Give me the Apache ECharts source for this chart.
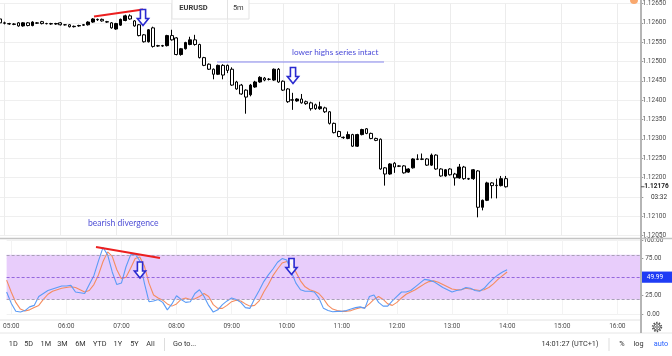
<!DOCTYPE html>
<html><head><meta charset="utf-8">
<script src="https://cdn.jsdelivr.net/npm/echarts@6/dist/echarts.min.js"></script>
<style>html,body{margin:0;padding:0;background:#fff}#c{width:672px;height:356px}</style>
</head><body><div id="c"></div>
<script>
function pad(n){return (n<10?'0':'')+n;}
// 5-minute categories 04:55 .. 16:25
const times=[]; for(let m=295;m<=985;m+=5) times.push(pad(Math.floor(m/60))+':'+pad(m%60));

// EURUSD 5m candles from 04:55 to 14:00
const open=[1.12610,1.12600,1.12598,1.12597,1.12600,1.12592,1.12600,1.12593,1.12600,1.12603,1.12598,1.12598,1.12597,1.12600,1.12595,1.12595,1.12590,1.12592,1.12594,1.12595,
1.12602,1.12609,1.12609,1.12603,1.12600,1.12584,1.12594,1.12606,1.12618,1.12605,1.12595,1.12569,1.12551,1.12587,1.12541,1.12540,1.12541,1.12567,1.12561,1.12518,
1.12533,1.12544,1.12556,1.12544,1.12510,1.12493,1.12480,1.12467,1.12490,1.12490,1.12480,1.12447,1.12439,1.12426,1.12414,1.12434,1.12447,1.12457,1.12454,1.12452,
1.12480,1.12449,1.12429,1.12401,1.12398,1.12403,1.12396,1.12393,1.12388,1.12378,1.12380,1.12370,1.12340,1.12319,1.12304,1.12301,1.12311,1.12281,1.12311,1.12326,
1.12314,1.12301,1.12299,1.12225,1.12209,1.12237,1.12230,1.12230,1.12214,1.12225,1.12248,1.12248,1.12248,1.12232,1.12258,1.12222,1.12204,1.12222,1.12209,1.12199,
1.12227,1.12197,1.12197,1.12217,1.12123,1.12141,1.12186,1.12180,1.12179,1.12197];
const close=[1.12600,1.12599,1.12597,1.12596,1.12592,1.12600,1.12593,1.12602,1.12599,1.12598,1.12598,1.12597,1.12598,1.12595,1.12595,1.12590,1.12591,1.12593,1.12595,1.12602,
1.12610,1.12608,1.12605,1.12602,1.12587,1.12598,1.12609,1.12618,1.12610,1.12592,1.12567,1.12551,1.12582,1.12539,1.12540,1.12541,1.12567,1.12556,1.12518,1.12533,
1.12549,1.12556,1.12544,1.12510,1.12490,1.12480,1.12467,1.12490,1.12465,1.12477,1.12439,1.12429,1.12416,1.12408,1.12439,1.12447,1.12459,1.12452,1.12454,1.12480,
1.12447,1.12426,1.12396,1.12400,1.12403,1.12393,1.12391,1.12378,1.12378,1.12383,1.12370,1.12340,1.12316,1.12306,1.12303,1.12311,1.12281,1.12311,1.12324,1.12314,
1.12301,1.12296,1.12222,1.12209,1.12235,1.12227,1.12229,1.12212,1.12222,1.12248,1.12247,1.12247,1.12232,1.12258,1.12222,1.12204,1.12220,1.12207,1.12199,1.12227,
1.12197,1.12196,1.12220,1.12123,1.12141,1.12186,1.12179,1.12179,1.12197,1.12176];
const low=[1.12597,1.12596,1.12595,1.12594,1.12590,1.12590,1.12591,1.12591,1.12597,1.12596,1.12596,1.12595,1.12595,1.12593,1.12593,1.12588,1.12588,1.12590,1.12592,1.12593,
1.12600,1.12605,1.12603,1.12600,1.12585,1.12582,1.12592,1.12604,1.12608,1.12590,1.12565,1.12549,1.12549,1.12536,1.12538,1.12538,1.12539,1.12554,1.12516,1.12515,
1.12531,1.12542,1.12541,1.12508,1.12488,1.12478,1.12454,1.12465,1.12454,1.12470,1.12437,1.12427,1.12414,1.12365,1.12410,1.12432,1.12445,1.12449,1.12451,1.12450,
1.12445,1.12424,1.12393,1.12375,1.12396,1.12391,1.12388,1.12373,1.12375,1.12375,1.12367,1.12337,1.12314,1.12304,1.12300,1.12299,1.12279,1.12279,1.12309,1.12312,
1.12299,1.12294,1.12220,1.12179,1.12207,1.12212,1.12227,1.12210,1.12212,1.12223,1.12245,1.12245,1.12230,1.12230,1.12220,1.12202,1.12202,1.12205,1.12179,1.12197,
1.12194,1.12194,1.12194,1.12097,1.12115,1.12139,1.12146,1.12146,1.12177,1.12174];
const high=[1.12612,1.12603,1.12600,1.12599,1.12602,1.12602,1.12602,1.12604,1.12602,1.12605,1.12600,1.12600,1.12600,1.12602,1.12597,1.12597,1.12593,1.12595,1.12597,1.12604,
1.12612,1.12611,1.12611,1.12605,1.12602,1.12600,1.12611,1.12621,1.12622,1.12607,1.12597,1.12571,1.12584,1.12590,1.12543,1.12543,1.12569,1.12582,1.12563,1.12535,
1.12551,1.12564,1.12569,1.12546,1.12512,1.12495,1.12482,1.12492,1.12493,1.12492,1.12485,1.12450,1.12442,1.12428,1.12442,1.12450,1.12462,1.12460,1.12457,1.12482,
1.12483,1.12451,1.12431,1.12419,1.12405,1.12416,1.12399,1.12396,1.12391,1.12396,1.12383,1.12372,1.12342,1.12321,1.12306,1.12319,1.12313,1.12313,1.12326,1.12328,
1.12316,1.12303,1.12301,1.12227,1.12237,1.12240,1.12232,1.12232,1.12224,1.12250,1.12260,1.12262,1.12250,1.12262,1.12260,1.12224,1.12222,1.12224,1.12212,1.12235,
1.12230,1.12199,1.12222,1.12219,1.12143,1.12189,1.12188,1.12197,1.12204,1.12204];

// Stochastic oscillator %K (blue) and %D (orange), 04:55 .. 14:00
const kLine=[30,15,4,3,5,10,12,24,28,32,34,36,38,38,39,30,29,28,40,52,72,90,80,57,40,42,64,80,81,72,42,17,18,20,16,6,14,25,20,16,17,28,33,24,12,3,6,13,18,22,20,16,9,8,21,32,44,53,61,70,75,73,57,42,33,31,31,30,22,8,5,3.5,4,4,5,7,9,10,8,24,26,16,11,11,18,24,30,30,32,37,42,47,46,44,40,36,33,30,32,33,36,35,32,31,35,42,48,53,57,60];
const dLine=[46,30,16,7,4.5,6,9,12,20,27,31,33,35,36,37,36,33,30,32,40,53,71,84,78,60,48,50,62,75,77,65,42,26,22,19,14,11,14,20,22,20,21,24,28,24,13,8,8,12,17,19,18,14,11,12,18,30,40,52,61,69,71,67,57,45,37,33,31,28,21,12,7,5,4,4,5,7,9,9,14,20,24,20,14,12,16,22,27,30,33,37,41,44,45,43,40,37,34,33,33,35,34,33,32,33,36,41,47,52,57];

const priceTicks={min:1.1205,max:1.1265,step:0.0005,hidden:[1.1215]};
const oscTicks={min:0,max:100,step:25,hidden:[50]};
const bandLevels=[20,50,80];
const toolbarLeft=['1D','5D','1M','3M','6M','YTD','1Y','5Y','All'];

const candles=open.map((o,i)=>[o,close[i],low[i],high[i]]);
const isHour=(i,v)=>v.slice(3)==='00';
const isHidden=(v,list)=>list.some(h=>Math.abs(v-h)<1e-7);
const FONT='Roboto';
const chart=echarts.init(document.getElementById('c'),null,{renderer:'canvas',width:672,height:356});
chart.setOption({
  animation:false,
  backgroundColor:'#ffffff',
  grid:[{left:0,top:0.3,width:640.3,height:235.2},{left:0,top:240,width:640.3,height:74.3}],
  xAxis:[
    {type:'category',gridIndex:0,data:times,boundaryGap:false,axisLine:{show:false},axisTick:{show:false},axisLabel:{show:false},
     splitLine:{show:true,interval:isHour,lineStyle:{color:'#ececec',width:1}}},
    {type:'category',gridIndex:1,data:times,boundaryGap:false,axisLine:{show:false},axisTick:{show:false},
     axisLabel:{show:true,interval:isHour,color:'#4d4d4d',fontSize:6.6,fontFamily:FONT,margin:9},
     splitLine:{show:true,interval:isHour,lineStyle:{color:'#f3f3f3',width:1}}}
  ],
  yAxis:[
    {type:'value',gridIndex:0,position:'right',min:priceTicks.min,max:priceTicks.max,interval:priceTicks.step,
     axisLine:{show:false},axisTick:{show:true,length:3,lineStyle:{color:'#9a9a9a'}},
     axisLabel:{formatter:v=>isHidden(v,priceTicks.hidden)?'':v.toFixed(5),align:'center',margin:14,fontSize:6.5,fontFamily:FONT,color:'#4d4d4d'},
     splitLine:{show:true,lineStyle:{color:'#efefef'}}},
    {type:'value',gridIndex:1,position:'right',min:oscTicks.min,max:oscTicks.max,interval:oscTicks.step,
     axisLine:{show:false},axisTick:{show:true,length:3,lineStyle:{color:'#9a9a9a'}},
     axisLabel:{formatter:v=>isHidden(v,oscTicks.hidden)?'':v.toFixed(2),align:'center',margin:13,fontSize:6.5,fontFamily:FONT,color:'#4d4d4d'},
     splitLine:{show:true,lineStyle:{color:'#f1f1f1'}}}
  ],
  series:[
    {type:'candlestick',xAxisIndex:0,yAxisIndex:0,data:candles,barWidth:3.2,
     itemStyle:{color:'#000',color0:'#fff',borderColor:'#000',borderColor0:'#000',borderColorDoji:'#000',borderWidth:1}},
    {type:'line',xAxisIndex:1,yAxisIndex:1,data:dLine,showSymbol:false,symbol:'none',lineStyle:{color:'#f58c5f',width:1.1},z:3,
     markArea:{silent:true,itemStyle:{color:'#e8cdfb'},data:[[{yAxis:bandLevels[0]},{yAxis:bandLevels[2]}]]},
     markLine:{silent:true,symbol:'none',label:{show:false},
       data:[{yAxis:bandLevels[2],lineStyle:{color:'#a9a1b8',type:[3,2],width:1}},
             {yAxis:bandLevels[1],lineStyle:{color:'#9466dd',type:[3,2],width:1}},
             {yAxis:bandLevels[0],lineStyle:{color:'#a9a1b8',type:[3,2],width:1}}]}},
    {type:'line',xAxisIndex:1,yAxisIndex:1,data:kLine,showSymbol:false,symbol:'none',lineStyle:{color:'#5b9bf6',width:1.1},z:4}
  ]
});

function arrow(cx,y0){
  return {type:'polygon',shape:{points:[[cx-2.6,y0],[cx+2.6,y0],[cx+2.6,y0+9],[cx+5.6,y0+9],[cx,y0+16],[cx-5.6,y0+9],[cx-2.6,y0+9]]},
    style:{fill:'rgba(255,255,255,0.85)',stroke:'#2b2bd0',lineWidth:1.6},z:50};
}
function line(x1,y1,x2,y2,stroke,w){return {type:'line',shape:{x1,y1,x2,y2},style:{stroke,lineWidth:w},z:40};}
function txt(x,y,text,opts){return {type:'text',x,y,style:Object.assign({text,fill:'#333',font:'7.3px Roboto',textAlign:'center',textVerticalAlign:'middle'},opts||{}),z:60};}

const lastY=chart.convertToPixel({yAxisIndex:0},close[close.length-1]);
const oscY=chart.convertToPixel({yAxisIndex:1},49.99);
const tbX=[13.3,28.7,45.8,62.5,80.5,99.7,117.8,134.5,150.5];
const g=[
  line(0,238.5,672,238.5,'#c4c4c4',1.5),
  line(0,320,641,320,'#e2e2e2',1),
  line(0,333,672,333,'#e6e6e6',1),
  line(641,0,641,333,'#b5b5b5',2),
  // header boxes
  {type:'rect',shape:{x:172,y:-1,width:55.5,height:20},style:{fill:'#fff',stroke:'#e3e3e3',lineWidth:1},z:30},
  {type:'rect',shape:{x:227.5,y:-1,width:21.5,height:20},style:{fill:'#fff',stroke:'#e3e3e3',lineWidth:1},z:30},
  txt(193.5,8.5,'EURUSD',{font:'bold 7.5px Roboto',fill:'#3a3a3a'}),
  txt(238.3,8.5,'5m',{font:'7.5px Roboto',fill:'#3a3a3a'}),
  {type:'circle',shape:{cx:634,cy:0,r:4},style:{fill:'#f9a86e'},z:30},
  // annotations
  line(94,16.5,143,9.5,'#ec1f1f',2),
  arrow(143,9.5),
  line(217,62,384,62,'#8585ee',1),
  txt(292,52,'lower highs series intact',{font:'8.2px Lato',fill:'#4a4ad8',textAlign:'left'}),
  arrow(293,67.5),
  txt(88,223.5,'bearish divergence',{font:'8.6px Lato',fill:'#5050d6',textAlign:'left'}),
  line(96,247,160,258,'#ec1f1f',2),
  arrow(140,262),
  arrow(291.5,258.5),
  // price scale extras
  line(641,lastY,644.5,lastY,'#555',1),
  txt(656.5,lastY,close[close.length-1].toFixed(5),{font:'bold 6.5px Roboto',fill:'#222'}),
  txt(659,lastY+10.5,'03:32',{font:'6.5px Roboto',fill:'#333'}),
  {type:'rect',shape:{x:642,y:oscY-5.6,width:30,height:11.2},style:{fill:'#1f3cf5'},z:55},
  txt(655,oscY,'49.99',{font:'6.5px Roboto',fill:'#fff'}),
  // settings gear
  {type:'circle',shape:{cx:657,cy:327,r:4.3},style:{fill:'none',stroke:'#555',lineWidth:1.8,lineDash:[1.4,1.3]},z:60},
  {type:'circle',shape:{cx:657,cy:327,r:3.2},style:{fill:'#fff',stroke:'#555',lineWidth:1},z:61},
  {type:'circle',shape:{cx:657,cy:327,r:1.3},style:{fill:'#fff',stroke:'#555',lineWidth:0.9},z:62},
  // bottom toolbar
  line(164.5,338,164.5,351,'#dddddd',1),
  line(609,338,609,351,'#dddddd',1),
  txt(173,344.5,'Go to...',{textAlign:'left'}),
  txt(541.5,344.5,'14:01:27 (UTC+1)',{textAlign:'left'}),
  txt(622,344.5,'%'),
  txt(638.5,344.5,'log'),
  txt(661,344.5,'auto',{fill:'#2962ff'})
];
toolbarLeft.forEach((t,i)=>g.push(txt(tbX[i],344.5,t)));
chart.setOption({graphic:g});
</script></body></html>
